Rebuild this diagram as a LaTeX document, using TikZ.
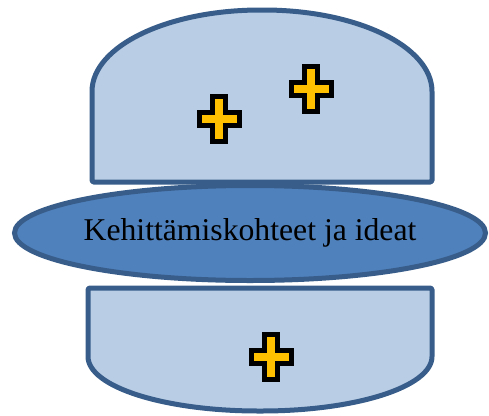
\documentclass[tikz,border=0pt]{standalone}
\usepackage{fontspec}
\setmainfont{Liberation Serif}
\usetikzlibrary{shapes.geometric}
\definecolor{lightfill}{HTML}{B9CDE5}
\definecolor{edgeblue}{HTML}{385D8A}
\definecolor{midblue}{HTML}{4F81BD}
\definecolor{plusyellow}{HTML}{FFC000}
\tikzset{
  panel/.style={draw=edgeblue, fill=lightfill, line width=5pt, line join=round},
  oval/.style={ellipse, draw=edgeblue, fill=midblue, line width=5pt, inner sep=0pt,
    minimum width=471pt, minimum height=95pt, font=\fontsize{31.7}{38}\selectfont},
  plus/.style={draw=black, fill=plusyellow, line width=5pt, line join=miter}
}
\newcommand{\plusmark}[2]{%
  \draw[plus] (#1-6.7,#2-22.5) -- (#1+6.7,#2-22.5) -- (#1+6.7,#2-6.7) -- (#1+20,#2-6.7)
    -- (#1+20,#2+6.7) -- (#1+6.7,#2+6.7) -- (#1+6.7,#2+22.5) -- (#1-6.7,#2+22.5)
    -- (#1-6.7,#2+6.7) -- (#1-20,#2+6.7) -- (#1-20,#2-6.7) -- (#1-6.7,#2-6.7) -- cycle;}
\begin{document}
\begin{tikzpicture}[x=1pt,y=-1pt]
\useasboundingbox (0,0) rectangle (489,415);
% top panel
\draw[panel, rounded corners=1.5pt] (92,182) -- (92,93)
  .. controls (92,46) and (168,10) .. (262,10)
  .. controls (356,10) and (432,46) .. (432,93) -- (432,182) -- cycle;
% bottom panel
\draw[panel, rounded corners=1.5pt] (88,288) -- (432,288) -- (432,355)
  .. controls (432,387) and (355,411) .. (260,411)
  .. controls (165,411) and (88,387) .. (88,355) -- cycle;
% plus marks
\plusmark{219}{119}
\plusmark{311}{89}
\plusmark{271}{357}
% central ellipse
\node[oval] (center) at (250,233) {Kehittämiskohteet ja ideat};
\end{tikzpicture}
\end{document}
